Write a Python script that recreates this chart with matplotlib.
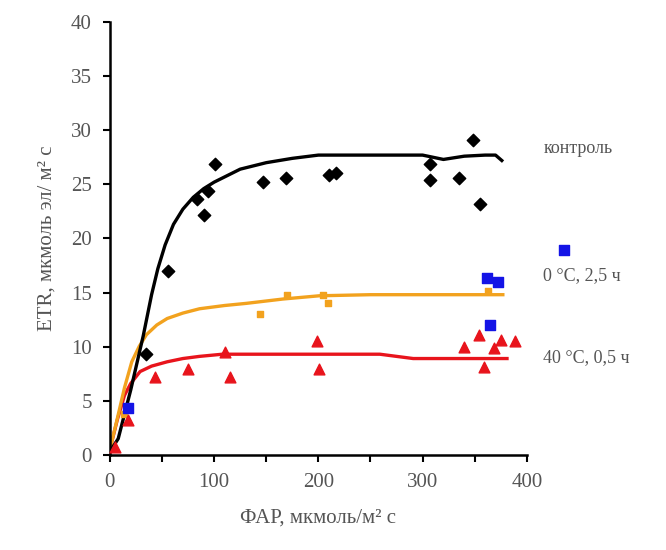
import matplotlib.pyplot as plt

# control (black diamonds)
ctrl_x = [35, 56, 84, 90, 94, 101, 147, 169, 210, 217, 307, 307, 335, 348, 355]
ctrl_y = [9.3, 17.0, 23.6, 22.2, 24.4, 26.9, 25.2, 25.6, 25.9, 26.0, 26.9, 25.4, 25.6, 29.1, 23.2]
ctrl_fx = [0, 8, 20, 32, 40, 46, 53, 61, 70, 80, 90, 100, 125, 150, 175, 200, 250, 300, 320, 340,
           360, 370, 376]
ctrl_fy = [0.3, 1.5, 6.0, 11.0, 14.8, 17.2, 19.4, 21.3, 22.7, 23.8, 24.6, 25.2, 26.4, 27.0, 27.4,
           27.7, 27.7, 27.7, 27.3, 27.6, 27.7, 27.7, 27.2]

# 0 C, 2.5 h (orange points + blue squares)
cold_x = [14, 144, 170, 204, 209, 363]
cold_y = [3.8, 13.0, 14.8, 14.8, 14.0, 15.1]
blue_x = [17, 362, 372, 365, 436]
blue_y = [4.3, 16.3, 16.0, 12.0, 18.9]
cold_fx = [0, 7, 14, 21, 28, 35, 45, 55, 70, 86, 110, 131, 166, 201, 250, 300, 350, 377]
cold_fy = [0.5, 3.3, 6.2, 8.6, 10.0, 11.1, 12.0, 12.6, 13.1, 13.5, 13.8, 14.0, 14.4, 14.7, 14.8,
           14.8, 14.8, 14.8]

# 40 C, 0.5 h (red triangles)
heat_x = [5, 17, 43, 75, 110, 115, 199, 201, 340, 354, 359, 369, 375, 389]
heat_y = [0.7, 3.2, 7.2, 7.9, 9.5, 7.2, 10.5, 7.9, 10.0, 11.1, 8.1, 9.9, 10.6, 10.5]
heat_fx = [0, 7, 14, 20, 29, 40, 55, 70, 86, 108, 131, 200, 259, 275, 291, 320, 355, 381]
heat_fy = [0.5, 3.2, 5.5, 6.6, 7.7, 8.2, 8.6, 8.9, 9.1, 9.3, 9.3, 9.3, 9.3, 9.1, 8.9, 8.9, 8.9, 8.9]

labels = ["контроль", "0 °С, 2,5 ч", "40 °С, 0,5 ч"]
label_y = [28.3, 16.6, 9.0]

plt.rcParams['font.family'] = ['Liberation Serif', 'DejaVu Serif']
txt = '#555555'

fig = plt.figure(figsize=(6.66, 5.5), dpi=100)
ax = fig.add_axes([0.165, 0.173, 0.626, 0.787])

orange = '#F2A21E'
red = '#E8141C'
blue = '#1414E6'

ax.plot(heat_fx, heat_fy, color=red, lw=2.4, zorder=2)
ax.plot(cold_fx, cold_fy, color=orange, lw=2.4, zorder=2)
ax.plot(ctrl_fx, ctrl_fy, color='black', lw=2.4, zorder=3)

ax.scatter(cold_x, cold_y, marker='s', s=22, color=orange, zorder=4)
ax.scatter(heat_x, heat_y, marker='^', s=60, color=red, zorder=4, clip_on=False)
ax.scatter(blue_x, blue_y, marker='s', s=60, color=blue, zorder=5, clip_on=False)
ax.scatter(ctrl_x, ctrl_y, marker='D', s=40, color='black', zorder=5)

ax.set_xlim(0, 400)
ax.set_ylim(0, 40)
ax.set_xticks(range(0, 401, 50))
ax.set_xticklabels(['0', '', '100', '', '200', '', '300', '', '400'])
ax.set_yticks(range(0, 41, 5))
for s in ['top', 'right']:
    ax.spines[s].set_visible(False)
for s in ['left', 'bottom']:
    ax.spines[s].set_linewidth(1.8)
ax.tick_params(direction='out', length=5, width=1.5, labelsize=15, labelcolor=txt, pad=8)

ax.set_xlabel("ФАР, мкмоль/м² с", fontsize=15, color=txt, labelpad=12)
ax.set_ylabel("ETR, мкмоль эл/ м² с", fontsize=15, color=txt, labelpad=10)

for lab, yy in zip(labels, label_y):
    ax.text(1.04, yy, lab, transform=ax.get_yaxis_transform(), fontsize=13,
            color=txt, va='center', ha='left')

fig.savefig('out.png', dpi=100)
